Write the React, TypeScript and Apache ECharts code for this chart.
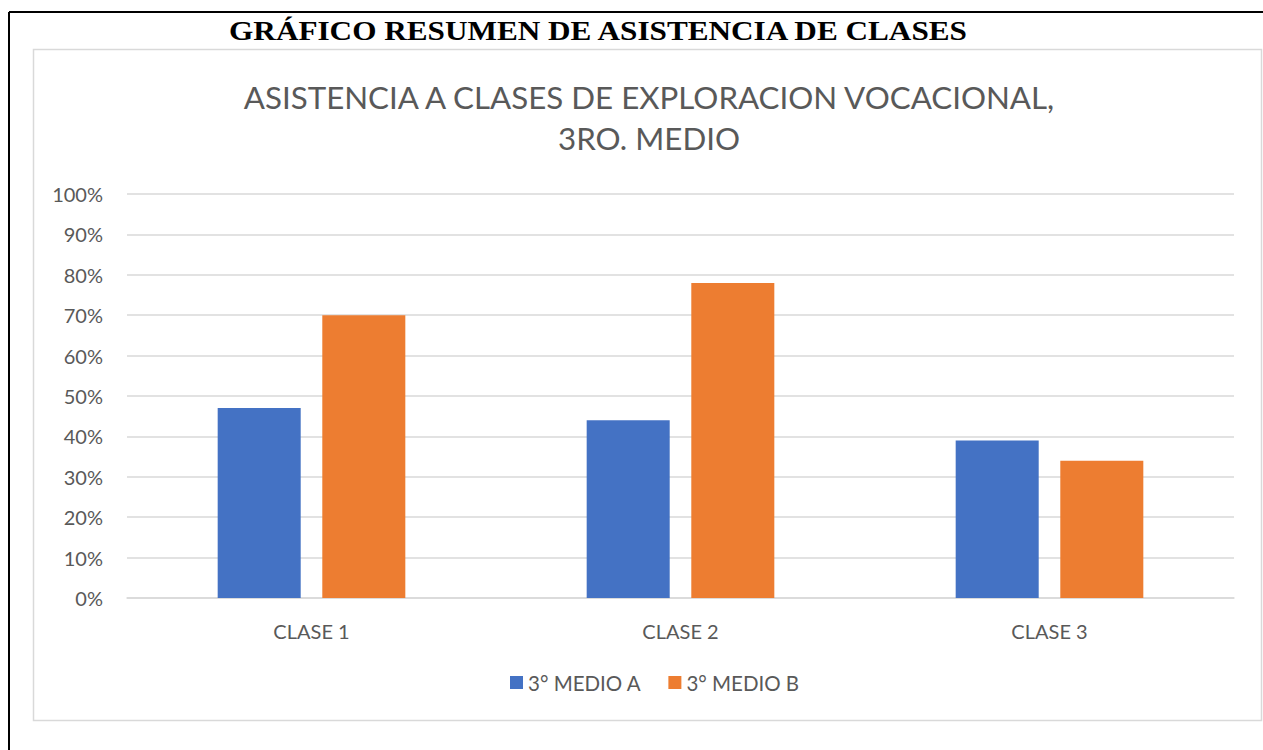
import React, { useEffect, useRef } from "react";
import * as echarts from "echarts";

const heading = "GRÁFICO RESUMEN DE ASISTENCIA DE CLASES";
const chartTitle = "ASISTENCIA A CLASES DE EXPLORACION VOCACIONAL,\n3RO. MEDIO";
const categories = ["CLASE 1", "CLASE 2", "CLASE 3"];
const seriesNames = ["3° MEDIO A", "3° MEDIO B"];
const medioA = [0.47, 0.44, 0.39];
const medioB = [0.70, 0.78, 0.34];
const colors = ["#4472C4", "#ED7D31"];

const FONT = "Lato, 'Open Sans', sans-serif";

export default function App() {
  const ref = useRef<HTMLDivElement>(null);
  useEffect(() => {
    if (!ref.current) return;
    const chart = echarts.init(ref.current, undefined, { renderer: "svg" });
    chart.setOption({
      animation: false,
      backgroundColor: "#ffffff",
      color: colors,
      title: {
        text: chartTitle,
        left: 644,
        textAlign: "center",
        top: 71,
        textStyle: {
          fontFamily: FONT,
          fontSize: 31.3,
          fontWeight: "normal",
          color: "#595959",
          lineHeight: 41,
        },
      },
      graphic: [
        { type: "line", shape: { x1: 9, y1: 12, x2: 1263, y2: 12 }, style: { stroke: "#000", lineWidth: 2 } },
        { type: "line", shape: { x1: 9, y1: 12, x2: 9, y2: 750 }, style: { stroke: "#000", lineWidth: 2 } },
        { type: "rect", shape: { x: 33.5, y: 49.5, width: 1228, height: 671 }, style: { fill: "none", stroke: "#d9d9d9", lineWidth: 1.5 } },
        {
          type: "text",
          x: 598,
          y: 31,
          scaleX: 1.115,
          style: {
            text: heading,
            fontFamily: "'Liberation Serif', 'DejaVu Serif', serif",
            fontWeight: "bold",
            fontSize: 28,
            fill: "#000",
            align: "center",
            verticalAlign: "middle",
          },
        },
      ],
      legend: {
        data: seriesNames,
        bottom: 52,
        left: 505,
        itemWidth: 13,
        itemHeight: 13,
        itemGap: 27,
        icon: "rect",
        textStyle: { fontFamily: FONT, fontSize: 20.5, color: "#595959" },
      },
      grid: { left: 127, right: 29, top: 194, bottom: 152 },
      xAxis: {
        type: "category",
        data: categories,
        axisLine: { lineStyle: { color: "#d9d9d9", width: 1.5 } },
        axisTick: { show: false },
        axisLabel: { fontFamily: FONT, fontSize: 20, color: "#595959", margin: 23 },
      },
      yAxis: {
        type: "value",
        min: 0,
        max: 1,
        interval: 0.1,
        axisLine: { show: false },
        axisTick: { show: false },
        splitLine: { lineStyle: { color: "#d9d9d9", width: 1.5 } },
        axisLabel: {
          fontFamily: FONT,
          fontSize: 20,
          color: "#595959",
          margin: 24,
          formatter: (v: number) => Math.round(v * 100) + "%",
        },
      },
      series: [
        { name: seriesNames[0], type: "bar", data: medioA, barWidth: "22.5%", barGap: "26%" },
        { name: seriesNames[1], type: "bar", data: medioB, barWidth: "22.5%", barGap: "26%" },
      ],
    });
    return () => chart.dispose();
  }, []);
  return <div ref={ref} style={{ position: "fixed", left: 0, top: 0, width: 1263, height: 750 }} />;
}
